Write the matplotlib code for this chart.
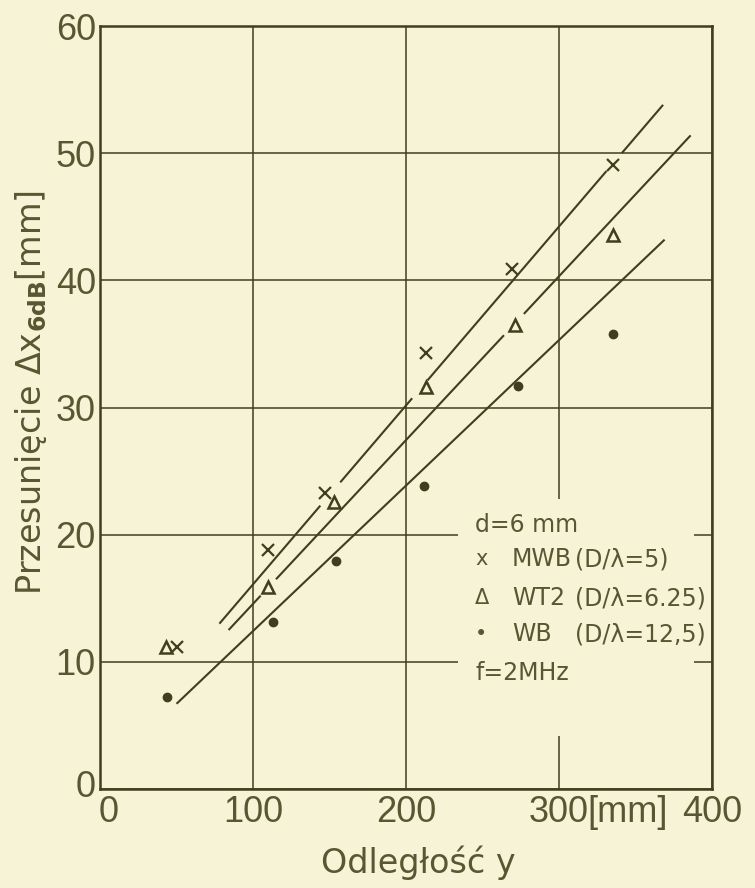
import matplotlib

matplotlib.use("Agg")
import matplotlib.pyplot as plt
import matplotlib.transforms as mtransforms
import numpy as np
from matplotlib.patches import Rectangle

# measured points, distance y [mm] vs shift dx_6dB [mm]
dist_mwb = [50, 110, 147, 213, 269, 335]
shift_mwb = [11.2, 18.8, 23.3, 34.3, 40.9, 49.1]
dist_wt2 = [43, 110, 153, 213, 271, 335]
shift_wt2 = [11.2, 15.9, 22.6, 31.6, 36.5, 43.6]
dist_wb = [44, 113, 154, 212, 273, 335]
shift_wb = [7.2, 13.1, 17.9, 23.8, 31.7, 35.8]

# straight fitted lines (end points)
fit_mwb_x = [78, 368]
fit_mwb_y = [13.0, 53.8]
fit_wt2_x = [84, 386]
fit_wt2_y = [12.5, 51.4]
fit_wb_x = [50, 369]
fit_wb_y = [6.7, 43.2]

# places where the drawn line is interrupted around a marker
gaps_mwb = [(144, 157), (204, 214), (331, 341)]
gaps_wt2 = [(105, 115), (264, 277)]
gaps_wb = []

x_ticks = [0, 100, 200, 300, 400]
x_tick_labels = ["0", "100", "200", "300", "400"]
y_ticks = [0, 10, 20, 30, 40, 50, 60]

legend_rows = [
    ("", "d=6 mm", ""),
    ("x", "MWB", "(D/λ=5)"),
    ("Δ", "WT2", "(D/λ=6.25)"),
    ("•", "WB", "(D/λ=12,5)"),
    ("", "f=2MHz", ""),
]

BG = "#f6f3d6"
INK = "#403e1e"
TXT = "#5a5632"
FONT = "DejaVu Sans"
TICKFONT = ["Liberation Sans", "DejaVu Sans"]


def _fit_segments(ax, xs, ys, gaps):
    x0, x1 = xs
    cuts = [x0]
    for a, b in gaps:
        cuts += [a, b]
    cuts.append(x1)
    for a, b in zip(cuts[::2], cuts[1::2]):
        ax.plot([a, b], np.interp([a, b], xs, ys), color=INK, lw=1.5,
                solid_capstyle="butt", zorder=3)


fig = plt.figure(figsize=(7.55, 8.88), dpi=100, facecolor=BG)
ax = fig.add_axes([0.1325, 0.1115, 0.8106, 0.8592])
ax.set_facecolor(BG)

ax.set_xlim(0, 400)
ax.set_ylim(0, 60)
ax.set_xticks(x_ticks)
ax.set_xticklabels(x_tick_labels)
ax.set_yticks(y_ticks)
ax.grid(True, color=INK, lw=1.1, zorder=0)
ax.set_axisbelow(True)
for sp in ax.spines.values():
    sp.set_color(INK)
    sp.set_linewidth(1.8)
ax.tick_params(length=0, labelsize=26, labelcolor=TXT)
ax.tick_params(axis="y", pad=3)
ax.tick_params(axis="x", pad=4)
for lab in ax.get_xticklabels() + ax.get_yticklabels():
    lab.set_family(TICKFONT)

# the two zeros at the corner sit a little apart
ax.get_yticklabels()[0].set_transform(
    ax.get_yaxis_text1_transform(3)[0]
    + mtransforms.ScaledTranslation(0, 4 / 72, fig.dpi_scale_trans))
ax.get_xticklabels()[0].set_transform(
    ax.get_xaxis_text1_transform(4)[0]
    + mtransforms.ScaledTranslation(6 / 72, 0, fig.dpi_scale_trans))

ax.annotate("[mm]", xy=(300, 0), xycoords=("data", "axes fraction"),
            xytext=(20.5, -4), textcoords="offset points", ha="left", va="top",
            fontsize=26, color=TXT, family=TICKFONT)

# legend area blanks the grid
ax.add_patch(Rectangle((0.585, 0.07), 0.385, 0.31, transform=ax.transAxes,
                       facecolor=BG, edgecolor="none", zorder=1))

_fit_segments(ax, fit_mwb_x, fit_mwb_y, gaps_mwb)
_fit_segments(ax, fit_wt2_x, fit_wt2_y, gaps_wt2)
_fit_segments(ax, fit_wb_x, fit_wb_y, gaps_wb)

ax.plot(dist_mwb, shift_mwb, ls="none", marker="x", ms=8, mew=1.6, color=INK, zorder=4)
ax.plot(dist_wt2, shift_wt2, ls="none", marker="^", ms=8, mew=1.8, mfc=BG, mec=INK, zorder=4)
ax.plot(dist_wb, shift_wb, ls="none", marker="o", ms=6, color=INK, zorder=4)

row_y = [0.346, 0.301, 0.25, 0.203, 0.152]
for (sym, name, par), yy in zip(legend_rows, row_y):
    if sym:
        ax.text(0.613, yy, sym, transform=ax.transAxes, ha="left", va="center",
                fontsize=15, color=TXT, family=FONT, zorder=5)
        ax.text(0.673, yy, name, transform=ax.transAxes, ha="left", va="center",
                fontsize=17, color=TXT, family=FONT, zorder=5)
        ax.text(0.776, yy, par, transform=ax.transAxes, ha="left", va="center",
                fontsize=17, color=TXT, family=FONT, zorder=5)
    else:
        ax.text(0.613, yy, name, transform=ax.transAxes, ha="left", va="center",
                fontsize=17, color=TXT, family=FONT, zorder=5)

ax.set_xlabel("Odległość y", fontsize=24, color=TXT, family=FONT)
ax.xaxis.set_label_coords(0.52, -0.074)
ax.set_ylabel(r"Przesunięcie Δx$_{\mathbf{6dB}}$[mm]", fontsize=24, color=TXT, family=FONT)
ax.yaxis.set_label_coords(-0.084, 0.52)

fig.savefig("out.png", dpi=100, facecolor=BG)
